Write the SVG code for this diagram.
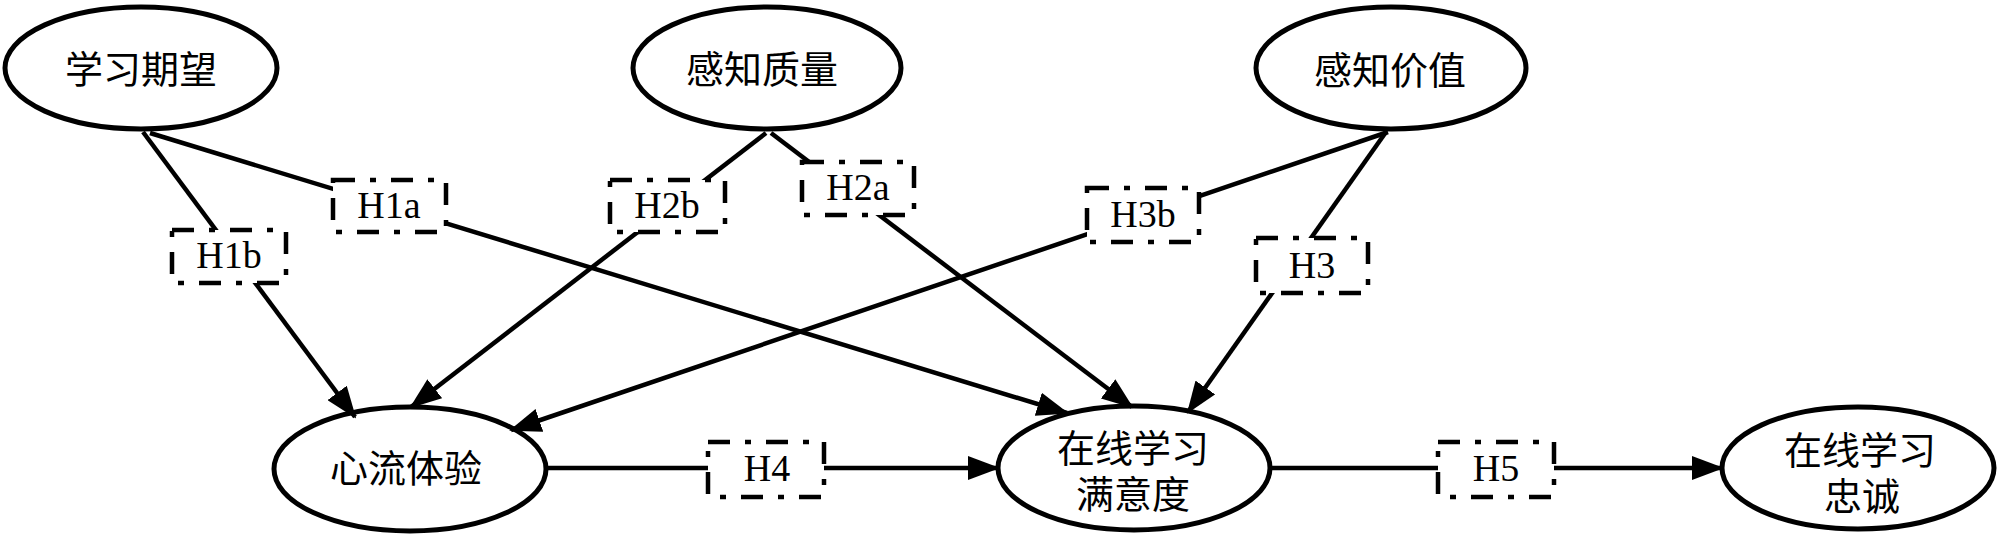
<svg xmlns="http://www.w3.org/2000/svg" width="2000" height="538" viewBox="0 0 2000 538">
<style>
.node ellipse{fill:#fff;stroke:#000;stroke-width:5}
.ntext{font-family:"Noto Sans CJK SC","Noto Sans CJK JP",sans-serif;font-size:38px;fill:#000;text-anchor:middle}
.edge{stroke:#000;stroke-width:4.5;fill:none;marker-end:url(#arr)}
.hbox{fill:#fff;stroke:#000;stroke-width:4.5;stroke-dasharray:22 15 6 15}
.htext{font-family:"Liberation Serif","Times New Roman",serif;font-size:38px;fill:#000;text-anchor:middle}
</style>
<defs>
<marker id="arr" markerUnits="userSpaceOnUse" viewBox="0 0 32 24" markerWidth="32" markerHeight="24" refX="30" refY="12" orient="auto">
<path d="M0,0 L32,12 L0,24 z" fill="#000"/>
</marker>
</defs>
<rect width="2000" height="538" fill="#fff"/>
<g id="n-xuexiqiwang" class="node"><ellipse cx="141" cy="68" rx="136" ry="61"/><text class="ntext" x="141" y="83">学习期望</text></g>
<g id="n-ganzhizhiliang" class="node"><ellipse cx="767" cy="68" rx="134" ry="61"/><text class="ntext" x="762" y="83">感知质量</text></g>
<g id="n-ganzhijiazhi" class="node"><ellipse cx="1391" cy="68" rx="135" ry="61"/><text class="ntext" x="1390" y="84">感知价值</text></g>
<g id="n-xinliu" class="node"><ellipse cx="410" cy="469" rx="136" ry="62"/><text class="ntext" x="406" y="482">心流体验</text></g>
<g id="n-manyidu" class="node"><ellipse cx="1134" cy="468" rx="136" ry="62"/><text class="ntext"><tspan x="1133" y="462">在线学习</tspan><tspan x="1133" y="508">满意度</tspan></text></g>
<g id="n-zhongcheng" class="node"><ellipse cx="1858" cy="468" rx="136" ry="61"/><text class="ntext"><tspan x="1860" y="464">在线学习</tspan><tspan x="1862" y="510">忠诚</tspan></text></g>
<g id="connectors">
<line class="edge" x1="150" y1="133" x2="1067" y2="413"/>
<line class="edge" x1="143" y1="132" x2="355" y2="417"/>
<line class="edge" x1="766" y1="133" x2="411" y2="407"/>
<line class="edge" x1="771" y1="133" x2="1132" y2="407"/>
<line class="edge" x1="1388" y1="132" x2="511" y2="430"/>
<line class="edge" x1="1386" y1="132" x2="1188" y2="412"/>
<line class="edge" x1="546" y1="468" x2="998" y2="468"/>
<line class="edge" x1="1270" y1="468" x2="1722" y2="468"/>
</g>
<g id="lbl-H1a"><rect class="hbox" x="333" y="180" width="113" height="52"/><text class="htext" x="389" y="218">H1a</text></g>
<g id="lbl-H1b"><rect class="hbox" x="172" y="230" width="114" height="53"/><text class="htext" x="229" y="268">H1b</text></g>
<g id="lbl-H2b"><rect class="hbox" x="610" y="180" width="115" height="52"/><text class="htext" x="667" y="218">H2b</text></g>
<g id="lbl-H2a"><rect class="hbox" x="802" y="162" width="112" height="53"/><text class="htext" x="858" y="200">H2a</text></g>
<g id="lbl-H3b"><rect class="hbox" x="1087" y="188" width="112" height="54"/><text class="htext" x="1143" y="227">H3b</text></g>
<g id="lbl-H3"><rect class="hbox" x="1256" y="238" width="112" height="55"/><text class="htext" x="1312" y="278">H3</text></g>
<g id="lbl-H4"><rect class="hbox" x="708" y="442" width="116" height="55"/><text class="htext" x="767" y="481">H4</text></g>
<g id="lbl-H5"><rect class="hbox" x="1438" y="442" width="116" height="55"/><text class="htext" x="1496" y="481">H5</text></g>
</svg>
